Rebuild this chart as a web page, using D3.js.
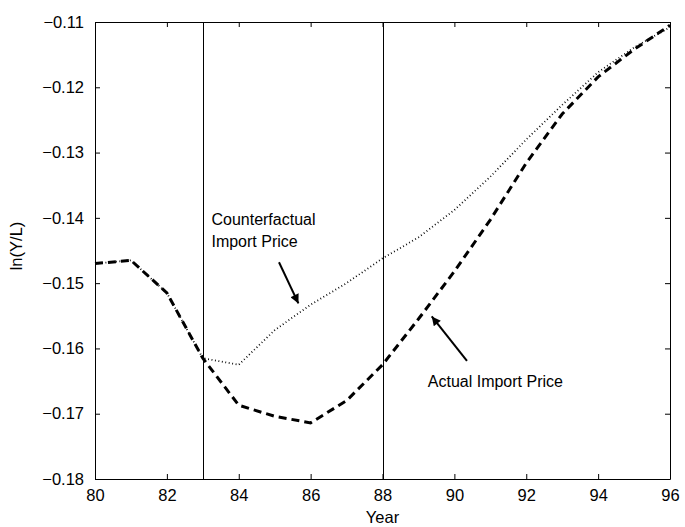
<!DOCTYPE html>
<meta charset="utf-8">
<style>
  body { margin: 0; background: #fff; }
  svg { font-family: "Liberation Sans", Arial, sans-serif; }
  .axis text { font-size: 16.5px; fill: #000; }
  .axis path, .axis line { stroke: #000; }
</style>
<script src="https://d3js.org/d3.v7.min.js"></script>
<div id="chart"></div>
<script>
var years = [80, 81, 82, 83, 84, 85, 86, 87, 88, 89, 90, 91, 92, 93, 94, 95, 96];
var actual = [-0.147, -0.1465, -0.1515, -0.1615, -0.1687, -0.1704, -0.1714, -0.1680, -0.1625,
              -0.1555, -0.1482, -0.1403, -0.1316, -0.1241, -0.1184, -0.1142, -0.1105];
var counterfactual = [-0.147, -0.1465, -0.1515, -0.1615, -0.1625, -0.1572, -0.1533, -0.1500, -0.1462,
                      -0.1430, -0.1388, -0.1337, -0.1280, -0.1227, -0.1177, -0.1139, -0.1108];
var xTicks = [80, 82, 84, 86, 88, 90, 92, 94, 96];
var yTicks = [-0.18, -0.17, -0.16, -0.15, -0.14, -0.13, -0.12, -0.11];
var breakYears = [83, 88];

var margin = {top: 22, right: 15, bottom: 48, left: 95},
    width = 685 - margin.left - margin.right,
    height = 527 - margin.top - margin.bottom;

var svg = d3.select("#chart")
  .append("svg")
    .attr("width", 685)
    .attr("height", 527)
  .append("g")
    .attr("transform", "translate(" + margin.left + "," + margin.top + ")");

var x = d3.scaleLinear().domain([80, 96]).range([0, width]);
var y = d3.scaleLinear().domain([-0.18, -0.11]).range([height, 0]);

// axes, ticks pointing inward on all four sides
svg.append("g").attr("class", "axis")
  .attr("transform", "translate(0," + height + ")")
  .call(d3.axisBottom(x).tickValues(xTicks).tickSizeInner(-5).tickSizeOuter(0).tickPadding(10));
svg.append("g").attr("class", "axis")
  .call(d3.axisTop(x).tickValues(xTicks).tickSizeInner(-5).tickSizeOuter(0).tickFormat(""));
svg.append("g").attr("class", "axis")
  .call(d3.axisLeft(y).tickValues(yTicks).tickSizeInner(-5).tickSizeOuter(0).tickPadding(11)
    .tickFormat(d3.format(".2f")));
svg.append("g").attr("class", "axis")
  .attr("transform", "translate(" + width + ",0)")
  .call(d3.axisRight(y).tickValues(yTicks).tickSizeInner(-5).tickSizeOuter(0).tickFormat(""));

// vertical markers
svg.selectAll(".vline")
  .data(breakYears)
  .enter().append("line")
    .attr("class", "vline")
    .attr("x1", function(d) { return Math.round(x(d)) + 0.5; })
    .attr("x2", function(d) { return Math.round(x(d)) + 0.5; })
    .attr("y1", 0)
    .attr("y2", height)
    .attr("stroke", "#000")
    .attr("stroke-width", 1);

var line = d3.line()
  .x(function(d, i) { return x(years[i]); })
  .y(function(d) { return y(d); });

svg.append("path")
  .datum(counterfactual)
  .attr("fill", "none")
  .attr("stroke", "#000")
  .attr("stroke-width", 1.8)
  .attr("stroke-dasharray", "0.9,2.6")
  .attr("d", line);

svg.append("path")
  .datum(actual)
  .attr("fill", "none")
  .attr("stroke", "#000")
  .attr("stroke-width", 3)
  .attr("stroke-dasharray", "8,5")
  .attr("d", line);

// annotations
svg.append("defs").append("marker")
    .attr("id", "arrow")
    .attr("viewBox", "0 0 10 10")
    .attr("refX", 10)
    .attr("refY", 5)
    .attr("markerUnits", "userSpaceOnUse")
    .attr("markerWidth", 12)
    .attr("markerHeight", 9)
    .attr("orient", "auto")
  .append("path")
    .attr("d", "M0,0L10,5L0,10z")
    .attr("fill", "#000");

function arrow(x1, y1, x2, y2) {
  svg.append("line")
    .attr("x1", x(x1)).attr("y1", y(y1))
    .attr("x2", x(x2)).attr("y2", y(y2))
    .attr("stroke", "#000")
    .attr("stroke-width", 2)
    .attr("marker-end", "url(#arrow)");
}

function label(tx, ty, s) {
  svg.append("text")
    .attr("x", x(tx))
    .attr("y", y(ty))
    .style("font-size", "16px")
    .text(s);
}

label(83.24, -0.1411, "Counterfactual");
label(83.24, -0.1445, "Import Price");
arrow(85.12, -0.1468, 85.66, -0.1531);

label(89.26, -0.1659, "Actual Import Price");
arrow(90.35, -0.1619, 89.37, -0.1551);

// axis titles
svg.append("text")
  .attr("x", width / 2)
  .attr("y", height + 44)
  .attr("text-anchor", "middle")
  .style("font-size", "16.5px")
  .text("Year");

svg.append("text")
  .attr("transform", "rotate(-90)")
  .attr("x", -(246 - margin.top))
  .attr("y", -73)
  .attr("text-anchor", "middle")
  .style("font-size", "16.5px")
  .text("ln(Y/L)");
</script>
